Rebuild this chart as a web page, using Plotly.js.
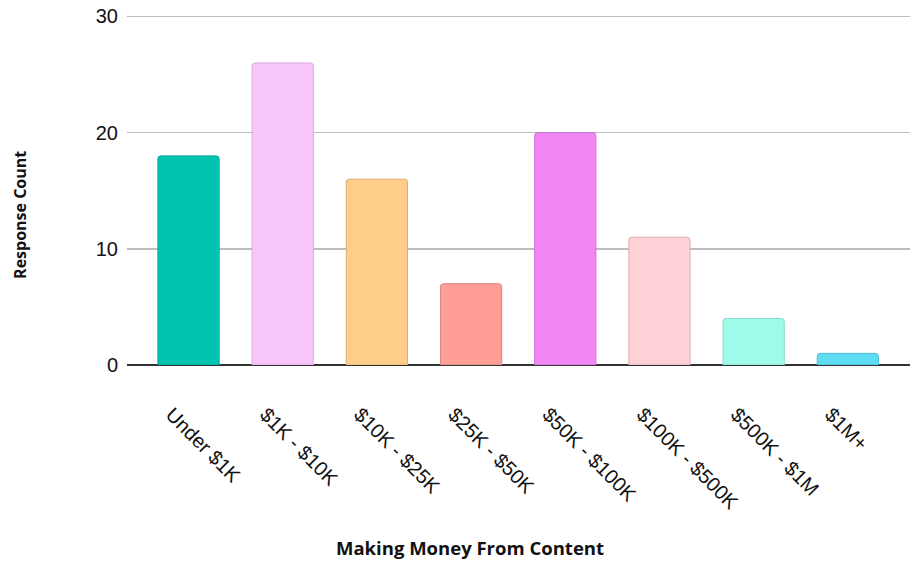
<!DOCTYPE html>
<html>
<head>
<meta charset="utf-8">
<script src="https://cdn.plot.ly/plotly-3.0.1.min.js"></script>
<style>html,body{margin:0;padding:0;background:#fff;}#chart{width:915px;height:561px;}</style>
</head>
<body>
<div id="chart"></div>
<script>
const categories = ["Under $1K", "$1K - $10K", "$10K - $25K", "$25K - $50K", "$50K - $100K", "$100K - $500K", "$500K - $1M", "$1M+"];
const responseCounts = [18, 26, 16, 7, 20, 11, 4, 1];
const barColors = ["#00C4B0", "#F9C6FC", "#FFCD8A", "#FF9E96", "#F286F4", "#FFD0D5", "#A0FAEA", "#5EDCF4"];
const barLines = ["#00A898", "#D9A8DC", "#D9AE74", "#D98680", "#D070D2", "#D9B0B5", "#86D9CA", "#4FBCD2"];
const yTicks = [0, 10, 20, 30];

const trace = {
  type: "bar",
  x: categories.map((c, i) => i),
  y: responseCounts,
  marker: { color: barColors, line: { color: barLines, width: 1 }, cornerradius: 3 },
  hoverinfo: "skip"
};

const layout = {
  width: 915, height: 561,
  margin: { l: 127, r: 5, t: 12.5, b: 195.5 },
  paper_bgcolor: "#fff", plot_bgcolor: "#fff",
  bargap: 0.35,
  showlegend: false,
  font: { family: "Liberation Sans, Arial, sans-serif", color: "#111" },
  xaxis: {
    range: [-0.653, 7.66],
    tickvals: categories.map((c, i) => i),
    ticktext: categories,
    tickangle: 45,
    tickfont: { size: 20, color: "#111" },
    ticks: "",
    ticklabelstandoff: 33,
    ticklabelshift: -17,
    showgrid: false, zeroline: false, showline: false, fixedrange: true
  },
  yaxis: {
    range: [0, 30.3],
    tickvals: yTicks,
    tickfont: { size: 20, color: "#111" },
    ticks: "",
    ticklabelstandoff: 8,
    showgrid: true, gridcolor: "#BDBDBD", gridwidth: 1.5,
    zeroline: true, zerolinecolor: "#333", zerolinewidth: 2,
    showline: false, fixedrange: true
  },
  annotations: [
    { text: "<b>Making Money From Content</b>", xref: "paper", yref: "paper", x: (470 - 127) / 783, y: -(549 - 365.5) / 353,
      xanchor: "center", yanchor: "middle", showarrow: false, font: { family: "Open Sans, sans-serif", size: 18.5, color: "#111" } },
    { text: "<b>Response Count</b>", xref: "paper", yref: "paper", x: (20 - 127) / 783, y: (365.5 - 215) / 353,
      xanchor: "center", yanchor: "middle", textangle: -90, showarrow: false, font: { family: "Open Sans, sans-serif", size: 16, color: "#111" } }
  ]
};

Plotly.newPlot("chart", [trace], layout, { displayModeBar: false, staticPlot: true });
</script>
</body>
</html>
